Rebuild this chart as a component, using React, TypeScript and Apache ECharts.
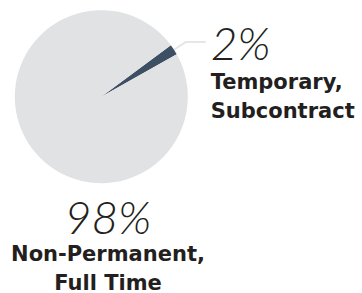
import React, { useEffect, useRef } from "react";
import * as echarts from "echarts";

const categories = ["Temporary,\nSubcontract", "Non-Permanent,\nFull Time"];
const values = [2, 98];
const percentLabels = ["2%", "98%"];
const colors = ["#3c4f63", "#e1e2e4"];

const PCT_FONT = "Lato";
const NAME_FONT = "'DejaVu Sans'";

export default function App() {
  const ref = useRef<HTMLDivElement>(null);
  useEffect(() => {
    document.body.style.margin = "0";
    const chart = echarts.init(ref.current!, null, { renderer: "svg" });
    const pStyle = { fontFamily: PCT_FONT, fontSize: 46, fontStyle: "italic", fontWeight: 300, color: "#231f20" };
    const nStyle = { fontFamily: NAME_FONT, fontSize: 21, fontWeight: "bold", color: "#231f20", lineHeight: 29 };
    const data = values.map((v, i) => {
      const nameLines = categories[i].split("\n").map((s) => `{n|${s}}`).join("\n");
      const text = `{p|${percentLabels[i]}}\n${nameLines}`;
      if (i === 0) {
        return {
          name: categories[i],
          value: v,
          itemStyle: { color: colors[i] },
          label: {
            show: true,
            position: "outside",
            formatter: text,
            width: 160,
            padding: [58, 0, 0, 0],
            align: "left",
            rich: {
              p: { ...pStyle, lineHeight: 50, align: "left" },
              n: { ...nStyle, align: "left" },
            },
          },
          labelLine: { show: true, length: 14, length2: 20, lineStyle: { color: "#e6e6e6", width: 2 } },
        };
      }
      return {
        name: categories[i],
        value: v,
        itemStyle: { color: colors[i] },
        label: {
          show: true,
          position: "outside",
          formatter: text,
          width: 220,
          align: "center",
          rich: {
            p: { ...pStyle, lineHeight: 45, align: "center" },
            n: { ...nStyle, align: "center" },
          },
        },
        labelLine: { show: false },
      };
    });
    chart.setOption({
      animation: false,
      series: [
        {
          type: "pie",
          center: [101.3, 96.7],
          radius: 86.5,
          startAngle: 36.5,
          clockwise: true,
          avoidLabelOverlap: false,
          bleedMargin: 0,
          label: { distanceToLabelLine: 5 },
          emphasis: { disabled: true },
          labelLayout: (params: any) => {
            if (params.dataIndex === 1) {
              return { x: 108, y: 194, align: "center", verticalAlign: "top", hideOverlap: false };
            }
            return { hideOverlap: false };
          },
          data,
        },
      ],
    });
    return () => chart.dispose();
  }, []);
  return <div ref={ref} style={{ width: 362, height: 293 }} />;
}
